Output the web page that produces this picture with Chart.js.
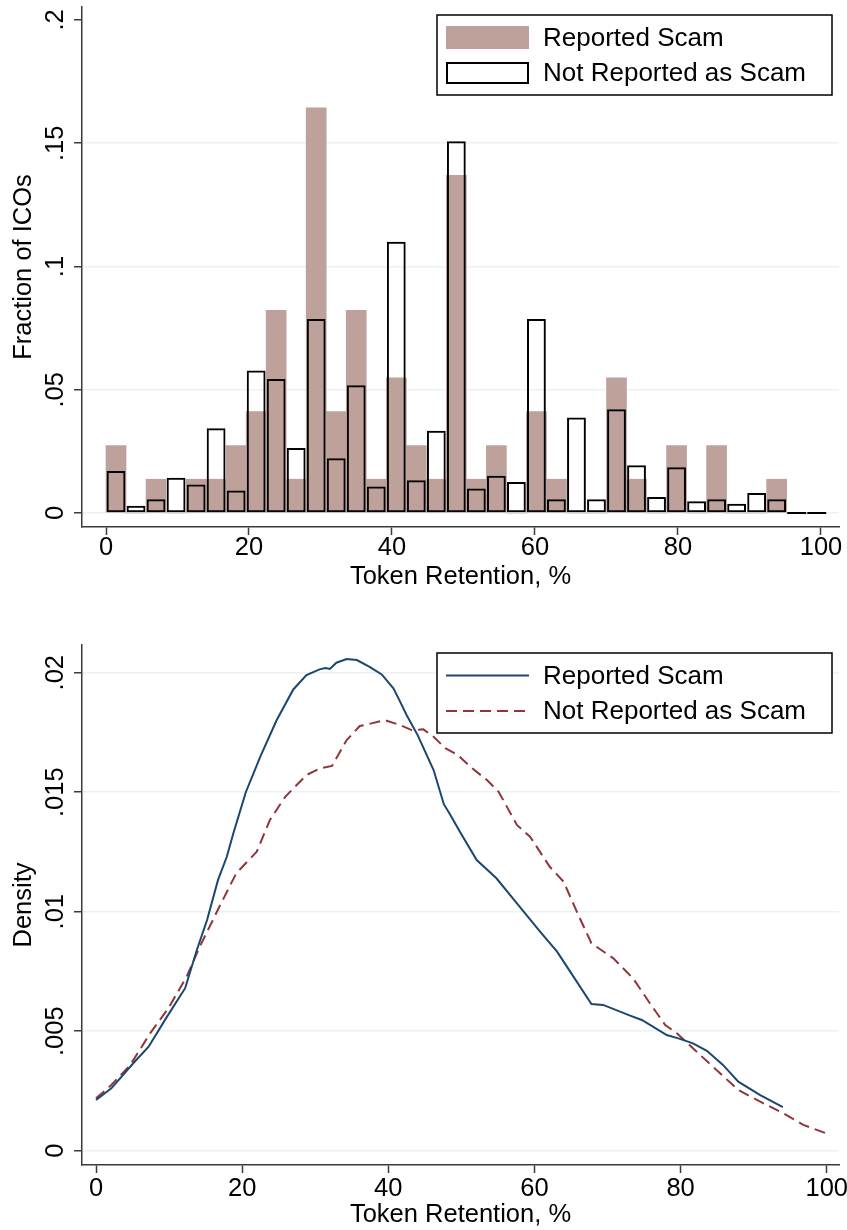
<!DOCTYPE html>
<html>
<head>
<meta charset="utf-8">
<title>Token Retention</title>
<script src="https://cdn.jsdelivr.net/npm/chart.js@4.4.1/dist/chart.umd.min.js"></script>
<style>
  html, body { margin: 0; padding: 0; background: #fff; }
  #page { position: relative; width: 847px; height: 1230px; }
  #hist-wrap { position: absolute; left: 0; top: 0; }
  #dens-wrap { position: absolute; left: 0; top: 600px; }
  canvas { display: block; }
</style>
</head>
<body>
<div id="page">
  <div id="hist-wrap"><canvas id="hist" width="847" height="600"></canvas></div>
  <div id="dens-wrap"><canvas id="dens" width="847" height="630"></canvas></div>
</div>
<script>
const FONT = '"Liberation Sans", Arial, Helvetica, sans-serif';
const AXIS_GREY = '#3a3a3a';
const GRID_BLUE = '#EAF2F3';
const SCAM_FILL = '#BFA19B';
const SCAM_LINE = '#1A476F';
const OTHER_LINE = '#90353B';

const seriesNames = ['Reported Scam', 'Not Reported as Scam'];

// Histogram: bin midpoints (token retention, %) and share of ICOs per bin
const binMid = [1.4, 4.2, 7.0, 9.8, 12.6, 15.4, 18.2, 21.0, 23.8, 26.6, 29.4, 32.2,
                35.0, 37.8, 40.6, 43.4, 46.2, 49.0, 51.8, 54.6, 57.4, 60.2, 63.0, 65.8,
                68.6, 71.4, 74.2, 77.0, 79.8, 82.6, 85.4, 88.2, 91.0, 93.8, 96.6, 99.4];
const scamShare = [0.0274, 0, 0.0137, 0, 0.0137, 0.0137, 0.0274, 0.0411, 0.0822, 0.0137, 0.1644, 0.0411,
                   0.0822, 0.0137, 0.0548, 0.0274, 0.0137, 0.1370, 0.0137, 0.0274, 0, 0.0411, 0.0137, 0,
                   0, 0.0548, 0.0137, 0, 0.0274, 0, 0.0274, 0, 0, 0.0137, 0, 0];
const otherShare = [0.0170, 0.0029, 0.0056, 0.0143, 0.0116, 0.0344, 0.0091, 0.0578, 0.0544, 0.0264, 0.0787, 0.0222,
                    0.0518, 0.0108, 0.1100, 0.0133, 0.0334, 0.1508, 0.0099, 0.0151, 0.0126, 0.0787, 0.0056, 0.0387,
                    0.0056, 0.0421, 0.0194, 0.0065, 0.0186, 0.0048, 0.0056, 0.0038, 0.0081, 0.0056, 0, 0];
const histTicksX = [0, 20, 40, 60, 80, 100];
const histTicksY = [0, 0.05, 0.1, 0.15, 0.2];

// Kernel density estimates
const scamDensX = [0, 2.1, 5.1, 7.2, 9.7, 12.2, 13.8, 15.2, 16.7, 17.9, 18.8, 20.5, 22.5, 24.7, 27.0, 28.8,
                   30.6, 31.4, 32.0, 32.9, 34.3, 35.7, 37.5, 39.1, 40.7, 41.6, 42.5, 44.0, 46.2, 47.6, 48.4,
                   49.8, 52.1, 54.8, 57.8, 60.8, 63.1, 64.6, 67.8, 69.4, 73.1, 74.7, 78.1, 79.7, 81.7, 83.6,
                   85.8, 87.9, 90.9, 94.0];
const scamDensY = [0.00212, 0.00261, 0.00366, 0.00435, 0.0056, 0.0068, 0.0084, 0.00965, 0.01133, 0.0123,
                   0.01328, 0.0150, 0.0165, 0.0180, 0.0193, 0.0199, 0.02014, 0.0202, 0.02016, 0.02042,
                   0.02057, 0.02053, 0.02023, 0.01993, 0.01935, 0.0188, 0.01823, 0.0174, 0.01593, 0.0145,
                   0.0141, 0.01335, 0.01216, 0.0114, 0.01028, 0.00916, 0.00833, 0.00763, 0.00614, 0.0061,
                   0.00565, 0.00547, 0.00484, 0.0047, 0.00449, 0.00418, 0.00359, 0.00289, 0.00233, 0.00182];
const otherDensX = [0, 2.1, 4.7, 7.4, 9.9, 12.4, 14.2, 17.0, 19.2, 22.0, 23.8, 25.9, 28.8, 30.7, 32.3, 34.3,
                    36.1, 37.7, 39.5, 41.6, 43.2, 44.8, 46.2, 47.8, 49.5, 51.2, 53.5, 55.1, 57.6, 59.4, 62.1,
                    64.0, 65.8, 67.8, 70.8, 73.5, 75.8, 77.9, 79.5, 82.7, 85.4, 87.9, 90.9, 94.1, 96.8, 99.9];
const otherDensY = [0.00219, 0.00275, 0.00359, 0.00491, 0.00596, 0.00728, 0.00854, 0.01028, 0.01161, 0.01251,
                    0.01384, 0.01481, 0.01572, 0.0160, 0.0161, 0.01718, 0.01777, 0.01788, 0.01802, 0.01781,
                    0.0176, 0.01763, 0.01732, 0.01684, 0.01656, 0.01607, 0.01551, 0.01502, 0.01363, 0.01314,
                    0.01188, 0.01125, 0.0100, 0.00868, 0.00805, 0.00721, 0.00617, 0.00526, 0.00491, 0.0040,
                    0.00324, 0.00254, 0.00205, 0.00156, 0.00108, 0.00073];
const densTicksX = [0, 20, 40, 60, 80, 100];
const densTicksY = [0, 0.005, 0.01, 0.015, 0.02];

// Stata-style tick labels: ".05" instead of "0.05"
const stataLabel = (v) => v === 0 ? '0' : String(v).replace(/^0\./, '.');

const pairUp = (xs, ys) => xs.map((x, i) => ({ x: x, y: ys[i] }));

// Y tick labels are drawn rotated, reading bottom to top:
const rotatedYTicks = {
    id: 'rotatedYTicks',
    afterDraw(chart) {
        const scale = chart.scales.y;
        const ctx = chart.ctx;
        ctx.save();
        ctx.font = `25.5px ${FONT}`;
        ctx.fillStyle = '#000';
        ctx.textAlign = 'center';
        ctx.textBaseline = 'alphabetic';
        scale.ticks.forEach((t) => {
            ctx.save();
            ctx.translate(scale.right - 19, scale.getPixelForValue(t.value));
            ctx.rotate(-Math.PI / 2);
            ctx.fillText(stataLabel(t.value), 0, 0);
            ctx.restore();
        });
        ctx.restore();
    }
};

// Boxed legend in the top right corner of the plot region:
const boxLegend = {
    id: 'boxLegend',
    afterDraw(chart) {
        const { ctx, chartArea } = chart;
        const right = chartArea.right - 7;
        const top = chartArea.top + 8;
        const w = 395, h = 80;
        const left = right - w;
        ctx.save();
        ctx.fillStyle = '#fff';
        ctx.fillRect(left, top, w, h);
        ctx.strokeStyle = '#000';
        ctx.lineWidth = 1.5;
        ctx.strokeRect(left, top, w, h);

        chart.data.datasets.forEach((ds, i) => {
            const cy = top + 22.5 + i * 35.5;
            const sx = left + 9, sw = 83;
            if (chart.config.type === 'bar') {
                if (ds.borderWidth) {
                    ctx.strokeStyle = ds.borderColor;
                    ctx.lineWidth = ds.borderWidth;
                    ctx.strokeRect(sx + 1, cy - 10, sw - 2, 20);
                } else {
                    ctx.fillStyle = ds.backgroundColor;
                    ctx.fillRect(sx, cy - 11.5, sw, 23);
                }
            } else {
                ctx.strokeStyle = ds.borderColor;
                ctx.lineWidth = ds.borderWidth;
                ctx.setLineDash(ds.borderDash || []);
                ctx.beginPath();
                ctx.moveTo(sx, cy);
                ctx.lineTo(sx + sw, cy);
                ctx.stroke();
                ctx.setLineDash([]);
            }
            ctx.fillStyle = '#000';
            ctx.font = `26px ${FONT}`;
            ctx.textAlign = 'left';
            ctx.textBaseline = 'middle';
            ctx.fillText(ds.label, left + 106, cy + 1);
        });
        ctx.restore();
    }
};

// Empty bins of the outlined histogram still show as a flat line on zero:
const flatBars = {
    id: 'flatBars',
    afterDatasetsDraw(chart) {
        const ds = chart.data.datasets[1];
        const meta = chart.getDatasetMeta(1);
        const ctx = chart.ctx;
        ctx.save();
        ctx.strokeStyle = ds.borderColor;
        ctx.lineWidth = ds.borderWidth;
        meta.data.forEach((bar, i) => {
            if (ds.data[i].y !== 0) return;
            const { x, width, base } = bar.getProps(['x', 'width', 'base'], true);
            ctx.beginPath();
            ctx.moveTo(x - width / 2, base);
            ctx.lineTo(x + width / 2, base);
            ctx.stroke();
        });
        ctx.restore();
    }
};

const xAxis = (min, max, ticks, height, labelPad, titlePad) => ({
    type: 'linear',
    min: min,
    max: max,
    offset: false,
    afterBuildTicks: (s) => { s.ticks = ticks.map((v) => ({ value: v })); },
    afterFit: (s) => {
        // fixed axis height, and let the end labels run into the margin
        s.height = height;
        s.paddingLeft = 0;
        s.paddingRight = 0;
    },
    grid: {
        offset: false,
        drawOnChartArea: false,
        drawTicks: true,
        tickLength: 8,
        tickColor: AXIS_GREY,
        tickWidth: 1.5
    },
    border: { display: true, color: AXIS_GREY, width: 1.5 },
    ticks: {
        color: '#000',
        font: { family: FONT, size: 25.5, lineHeight: 1 },
        padding: labelPad,
        maxRotation: 0,
        autoSkip: false,
        callback: (v) => stataLabel(v)
    },
    title: {
        display: true,
        text: 'Token Retention, %',
        color: '#000',
        font: { family: FONT, size: 25.5, lineHeight: 1.2 },
        padding: { top: 0, bottom: titlePad }
    }
});

const yAxis = (min, max, ticks, title, hideTop) => ({
    type: 'linear',
    min: min,
    max: max,
    afterBuildTicks: (s) => { s.ticks = ticks.map((v) => ({ value: v })); },
    afterFit: (s) => {
        s.width = 82;
        s.paddingTop = 0;
        s.paddingBottom = 0;
    },
    grid: {
        drawOnChartArea: true,
        color: (c) => (hideTop && c.tick && c.tick.value === ticks[ticks.length - 1]) ? 'rgba(0,0,0,0)' : GRID_BLUE,
        lineWidth: 1.5,
        drawTicks: true,
        tickLength: 8,
        tickColor: AXIS_GREY,
        tickWidth: 1.5
    },
    border: { display: true, color: AXIS_GREY, width: 1.5 },
    ticks: { display: false },
    title: {
        display: true,
        text: title,
        color: '#000',
        font: { family: FONT, size: 25.5, lineHeight: 1.2 },
        padding: { top: 9, bottom: 0 }
    }
});

const quiet = {
    responsive: false,
    devicePixelRatio: 1,
    animation: false,
    events: [],
    plugins: { legend: { display: false }, tooltip: { enabled: false } }
};

// Histogram of token retention:
new Chart(document.getElementById('hist'), {
    type: 'bar',
    data: {
        datasets: [
            {
                label: seriesNames[0],
                data: pairUp(binMid, scamShare),
                backgroundColor: SCAM_FILL,
                borderWidth: 0,
                grouped: false,
                barPercentage: 1,
                categoryPercentage: 1,
                order: 1
            },
            {
                label: seriesNames[1],
                data: pairUp(binMid, otherShare),
                backgroundColor: 'rgba(0,0,0,0)',
                borderColor: '#000',
                borderWidth: 2,
                borderSkipped: false,
                grouped: false,
                barPercentage: 0.94,
                categoryPercentage: 1,
                order: 0
            }
        ]
    },
    options: Object.assign({}, quiet, {
        layout: { padding: { top: 7, right: 8, bottom: 0, left: 0 } },
        scales: {
            x: xAxis(-3.357, 102.52, histTicksX, 73, 0, 7.7),
            y: yAxis(-0.00568, 0.20527, histTicksY, 'Fraction of ICOs', true)
        }
    }),
    plugins: [rotatedYTicks, flatBars, boxLegend]
});

// Kernel densities of token retention:
new Chart(document.getElementById('dens'), {
    type: 'line',
    data: {
        datasets: [
            {
                label: seriesNames[0],
                data: pairUp(scamDensX, scamDensY),
                borderColor: SCAM_LINE,
                borderWidth: 2,
                pointRadius: 0,
                tension: 0,
                fill: false
            },
            {
                label: seriesNames[1],
                data: pairUp(otherDensX, otherDensY),
                borderColor: OTHER_LINE,
                borderWidth: 2,
                borderDash: [11, 6],
                pointRadius: 0,
                tension: 0,
                fill: false
            }
        ]
    },
    options: Object.assign({}, quiet, {
        layout: { padding: { top: 45, right: 8, bottom: 0, left: 0 } },
        scales: {
            x: xAxis(-1.916, 101.68, densTicksX, 65, 3, 0),
            y: yAxis(-0.000598, 0.02116, densTicksY, 'Density', false)
        }
    }),
    plugins: [rotatedYTicks, boxLegend]
});
</script>
</body>
</html>
